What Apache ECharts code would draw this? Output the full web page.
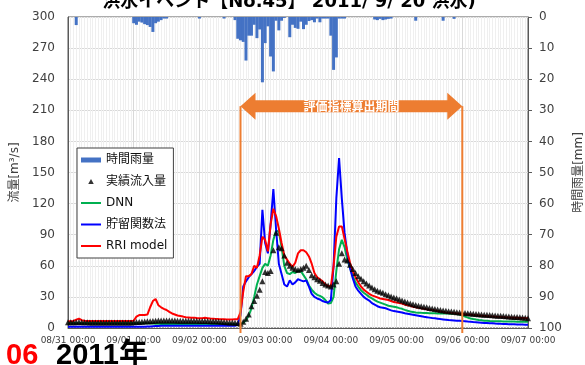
<!DOCTYPE html>
<html>
<head>
<meta charset="utf-8">
<script src="https://cdn.jsdelivr.net/npm/echarts@6/dist/echarts.min.js"></script>
<style>
html, body { margin: 0; padding: 0; background: #fff; }
#chart { width: 585px; height: 365px; }
</style>
</head>
<body>
<div id="chart"></div>
<script>
// Hourly series, index 0 = 08/31 00:00, index 168 = 09/07 00:00
const tickLabels = ['08/31 00:00', '09/01 00:00', '09/02 00:00', '09/03 00:00',
  '09/04 00:00', '09/05 00:00', '09/06 00:00', '09/07 00:00'];

// 時間雨量 [mm]
const rain = [
  0, 0, 0, 2.6, 0, 0, 0, 0, 0, 0, 0, 0,
  0, 0, 0, 0, 0, 0, 0, 0, 0, 0, 0, 0,
  2.0, 2.5, 1.5, 1.8, 2.3, 2.6, 3.2, 4.8, 2.0, 1.5, 1.0, 0.5,
  0.5, 0, 0, 0, 0, 0, 0, 0, 0, 0, 0, 0,
  0.5, 0, 0, 0, 0, 0, 0, 0, 0, 0.5, 0, 0,
  0, 1, 7, 7.5, 8, 14, 6, 6, 2.5, 6.8, 4, 21,
  8.4, 3, 12.7, 17.5, 1.2, 4.3, 1.2, 0.3, 0, 6.5, 2.5, 3.5,
  3.8, 1.5, 3.9, 2.5, 1.3, 1, 1.7, 0.5, 1.7, 0.5, 0.5, 0.5,
  6, 17, 13, 0.5, 0.5, 0.5, 0, 0, 0, 0, 0, 0,
  0, 0, 0, 0, 0.8, 1, 0.6, 1, 0.8, 0.6, 0.5, 0,
  0, 0, 0, 0, 0, 0, 0, 1.2, 0, 0, 0, 0,
  0, 0, 0, 0, 0, 1.2, 0, 0, 0, 0.6, 0, 0,
  0, 0, 0, 0, 0, 0, 0, 0, 0, 0, 0, 0,
  0, 0, 0, 0, 0, 0, 0, 0, 0, 0, 0, 0,
  0
];

// 実績流入量 [m3/s]
const observed = [
  5.5, 5.5, 5.5, 5.6, 5.8, 5.6, 5.5, 5.5, 5.4, 5.4, 5.4, 5.4,
  5.4, 5.4, 5.3, 5.3, 5.3, 5.3, 5.3, 5.3, 5.3, 5.3, 5.3, 5.4,
  5.5, 5.7, 5.9, 6.0, 6.2, 6.4, 6.6, 6.8, 7.0, 7.2, 7.3, 7.3,
  7.3, 7.3, 7.2, 7.2, 7.1, 7.1, 7.0, 7.0, 7.0, 6.9, 6.9, 6.9,
  6.8, 6.8, 6.8, 6.7, 6.6, 6.5, 6.4, 6.2, 6.0, 5.8, 5.6, 5.4,
  5.2, 5.0, 4.8, 4.0, 6.0, 9.0, 13, 21, 26, 31, 37, 45,
  54, 53, 55, 75, 92, 78, 77, 70, 63, 60, 58, 57,
  56, 57, 58, 60, 56, 51, 49, 47, 45.5, 43.5, 42, 41,
  40, 42, 45, 62, 72, 66, 65, 61, 57, 53, 50, 47.5,
  45, 43, 41, 39, 37.5, 36, 35, 34, 32.5, 31.5, 30.5, 29.5,
  28.6, 27.5, 26.5, 25.5, 24.5, 23.7, 23, 22.2, 21.5, 21, 20.4, 19.9,
  19.4, 18.9, 18.4, 17.9, 17.4, 17, 16.6, 16.2, 15.9, 15.6, 15.3, 15,
  14.7, 14.4, 14.2, 14, 13.8, 13.5, 13.3, 13.1, 12.9, 12.7, 12.5, 12.3,
  12.1, 11.9, 11.7, 11.5, 11.3, 11.1, 10.9, 10.7, 10.5, 10.3, 10.1, 9.8,
  9.5
];

// DNN
const dnn = [
  4.5, 4.5, 4.5, 4.5, 4.5, 4.5, 4.5, 4.5, 4.5, 4.5, 4.5, 4.5,
  4.5, 4.5, 4.5, 4.5, 4.5, 4.5, 4.5, 4.5, 4.5, 4.5, 4.5, 4.5,
  4.5, 4.5, 4.5, 4.5, 4.5, 4.5, 4.4, 4.3, 4.2, 4.0, 3.9, 3.9,
  3.9, 3.9, 3.9, 3.9, 3.9, 3.9, 3.9, 3.9, 3.9, 3.9, 3.9, 3.9,
  3.9, 3.9, 3.9, 3.9, 3.8, 3.8, 3.8, 3.8, 3.7, 3.7, 3.7, 3.6,
  3.6, 3.5, 3.5, 3.8, 5, 7.5, 12, 19, 30, 42, 50, 58,
  62, 60, 70, 85, 94, 93, 78, 60, 53, 52, 54, 53,
  55, 55, 51, 47, 41, 37, 34, 32, 31, 29.5, 27, 23.5,
  24, 30, 55, 76, 85, 78, 66, 58, 50, 44, 40, 36.5,
  34, 32, 30, 28.5, 27, 25.5, 24.5, 23.5, 22.5, 21.5, 21, 20.5,
  20, 19.2, 18.5, 17.5, 16.6, 16, 15.5, 15, 14.8, 14.6, 14.5, 14.4,
  14.3, 14.2, 14.2, 14.1, 14, 14, 13.9, 13.9, 13.8, 13.8, 13.6, 13,
  12, 11, 10, 9.2, 8.6, 8.1, 7.7, 7.4, 7.1, 6.9, 6.7, 6.6,
  6.5, 6.4, 6.4, 6.3, 6.3, 6.2, 6.2, 6.2, 6.1, 6.1, 6.1, 6.0,
  6.0
];

// 貯留関数法
const storage = [
  1.3, 1.3, 1.3, 1.3, 1.3, 1.3, 1.3, 1.3, 1.3, 1.3, 1.3, 1.3,
  1.3, 1.3, 1.3, 1.3, 1.3, 1.3, 1.3, 1.3, 1.3, 1.3, 1.3, 1.3,
  1.3, 1.3, 1.3, 1.3, 1.3, 1.4, 1.5, 1.7, 1.9, 2.0, 2.1, 2.2,
  2.2, 2.2, 2.2, 2.2, 2.2, 2.2, 2.2, 2.2, 2.2, 2.2, 2.2, 2.2,
  2.2, 2.2, 2.2, 2.2, 2.2, 2.2, 2.2, 2.2, 2.2, 2.2, 2.2, 2.2,
  2.2, 2.2, 3, 12, 40, 45, 49, 52, 55, 59, 62, 114,
  82, 72, 100, 134, 95, 62, 52, 42, 40, 46, 42, 44,
  47, 46, 45, 46, 40, 33, 30, 28.5, 27.5, 26, 25, 24.5,
  27, 60, 125, 164, 125, 92, 72, 58, 48, 40, 36, 33,
  30, 28, 26.5, 24, 22.5, 21, 20, 19.5, 19, 18, 17, 16.3,
  16, 15.5, 15, 14.3, 13.8, 13.3, 12.8, 12.3, 11.8, 11.3, 10.8, 10.4,
  10, 9.6, 9.3, 9, 8.6, 8.3, 8, 7.7, 7.5, 7.3, 7.1, 6.9,
  6.7, 6.5, 6.2, 6, 5.7, 5.5, 5.3, 5.1, 4.9, 4.8, 4.6, 4.5,
  4.3, 4.2, 4, 3.9, 3.8, 3.7, 3.6, 3.5, 3.4, 3.4, 3.3, 3.2,
  3.2
];

// RRI model
const rri = [
  6.5, 6.5, 6.8, 8, 9, 7.5, 7, 6.8, 6.8, 6.8, 6.8, 6.8,
  6.8, 6.7, 6.7, 6.7, 6.7, 6.7, 6.7, 6.7, 6.7, 6.7, 6.7, 6.8,
  7, 11, 12.5, 12.5, 12.5, 13, 20, 26, 28, 22, 20, 18.5,
  17.4, 15.5, 14, 13, 12, 11.6, 11, 10.3, 10.2, 10, 10, 9.6,
  9.3, 9.5, 9.8, 9.5, 9.2, 9, 8.8, 8.6, 8.5, 8.4, 8.3, 8.3,
  8.3, 8.5, 8.5, 15, 35, 50, 50, 52, 60, 58, 70, 88,
  85, 74, 100, 115, 108, 96, 82, 70, 66, 62, 59, 63,
  72, 75, 75, 73, 69, 62, 53, 49, 47, 45, 42, 40.5,
  40, 60, 88, 98, 98, 86, 74, 63, 55, 49, 44, 40,
  37, 35, 33, 31.5, 30.5, 29.5, 28.5, 28, 27.5, 27, 26, 25,
  24.5, 24, 23.5, 22.5, 22, 21.5, 20.5, 20, 19.5, 19, 18.5, 18,
  17.7, 17.3, 17, 16.5, 16, 15.5, 15, 14.7, 14.4, 14.2, 14, 13.8,
  13.5, 13.2, 13, 12.8, 12.5, 12.3, 12, 11.8, 11.6, 11.4, 11.2, 11,
  10.9, 10.7, 10.5, 10.4, 10.2, 10.1, 10, 9.9, 9.8, 9.7, 9.6, 9.5,
  9.4
];

// evaluation window (hour index) and the level of the arrow band
const evalStart = 63;
const evalEnd = 144;
const arrowLevel = 214;

const pairs = arr => arr.map((v, i) => [i, v]);

const numFont = '"DejaVu Sans", "Noto Sans CJK JP", sans-serif';
const orange = '#ED7D31';
const axisGrey = '#595959';
const textGrey = '#404040';

const chart = echarts.init(document.getElementById('chart'), null, { renderer: 'canvas' });

chart.setOption({
  animation: false,
  backgroundColor: '#fff',
  grid: {
    left: 68, right: 57, top: 17, bottom: 37,
    containLabel: false, outerBoundsMode: 'none',
    show: true, borderColor: axisGrey, borderWidth: 1, backgroundColor: 'transparent'
  },
  legend: {
    orient: 'vertical',
    left: 77, top: 148,
    padding: [5, 6, 5, 4],
    itemWidth: 20, itemHeight: 5, itemGap: 7.5,
    borderColor: textGrey, borderWidth: 1, borderRadius: 0,
    backgroundColor: '#fff',
    selectedMode: false,
    itemStyle: { borderWidth: 0 },
    textStyle: { fontSize: 12, color: '#111', fontFamily: numFont, lineHeight: 14 },
    data: [
      { name: '時間雨量', icon: 'rect' },
      { name: '実績流入量', icon: 'path://M5,0L10,9H0Z' },
      { name: 'DNN', icon: 'path://M0,0H20V2H0Z' },
      { name: '貯留関数法', icon: 'path://M0,0H20V2H0Z' },
      { name: 'RRI model', icon: 'path://M0,0H20V2H0Z' }
    ]
  },
  xAxis: {
    type: 'value', min: 0, max: 168, interval: 24,
    axisLine: { show: true, lineStyle: { color: axisGrey, width: 1 } },
    axisTick: { show: false },
    axisLabel: {
      formatter: v => tickLabels[Math.round(v / 24)],
      fontSize: 9, color: textGrey, fontFamily: numFont, margin: 8
    },
    splitLine: { show: true, lineStyle: { color: '#d9d9d9', width: 1 } },
    minorTick: { show: false, splitNumber: 24 },
    minorSplitLine: { show: true, lineStyle: { color: '#efefef', width: 1 } }
  },
  yAxis: [
    {
      type: 'value', min: 0, max: 300, interval: 30, position: 'left',
      name: '流量[m³/s]', nameLocation: 'middle', nameGap: 34, nameRotate: 90,
      nameTextStyle: { fontSize: 12, color: textGrey, fontFamily: numFont },
      axisLine: { show: true, lineStyle: { color: axisGrey, width: 1 } },
      axisTick: { show: false },
      axisLabel: { fontSize: 12, color: textGrey, fontFamily: numFont, margin: 13 },
      splitLine: { show: true, lineStyle: { color: '#d9d9d9', width: 1 } }
    },
    {
      type: 'value', min: 0, max: 100, interval: 10, position: 'right', inverse: true,
      name: '時間雨量[mm]', nameLocation: 'middle', nameGap: 44, nameRotate: 90,
      nameTextStyle: { fontSize: 12, color: textGrey, fontFamily: numFont },
      axisLine: { show: true, lineStyle: { color: axisGrey, width: 1 } },
      axisTick: { show: true, inside: false, length: 4, lineStyle: { color: axisGrey } },
      axisLabel: { fontSize: 12, color: textGrey, fontFamily: numFont, margin: 11 },
      splitLine: { show: false }
    }
  ],
  series: [
    {
      name: '時間雨量', type: 'bar', xAxisIndex: 0, yAxisIndex: 1,
      data: pairs(rain), barWidth: 3,
      itemStyle: { color: '#4472C4' }, z: 1
    },
    {
      name: 'DNN', type: 'line', yAxisIndex: 0, data: pairs(dnn),
      symbol: 'none', showSymbol: false,
      lineStyle: { color: '#00B050', width: 2 }, itemStyle: { color: '#00B050' }, z: 3
    },
    {
      name: '貯留関数法', type: 'line', yAxisIndex: 0, data: pairs(storage),
      symbol: 'none', showSymbol: false,
      lineStyle: { color: '#0000FF', width: 2 }, itemStyle: { color: '#0000FF' }, z: 3
    },
    {
      name: 'RRI model', type: 'line', yAxisIndex: 0, data: pairs(rri),
      symbol: 'none', showSymbol: false,
      lineStyle: { color: '#FF0000', width: 2 }, itemStyle: { color: '#FF0000' }, z: 3
    },
    {
      name: '実績流入量', type: 'scatter', yAxisIndex: 0, data: pairs(observed),
      symbol: 'triangle', symbolSize: [6, 6],
      itemStyle: { color: '#000' }, z: 5
    }
  ],
  graphic: [
    {
      id: 'caption', type: 'text', z: 10,
      style: {
        text: '洪水イベント【No.45】 2011/ 9/ 20 洪水)',
        x: 289, y: 11, align: 'center', verticalAlign: 'bottom',
        fontSize: 18, fontWeight: 'bold', fontFamily: numFont, fill: '#000'
      }
    },
    {
      id: 'no', type: 'text', z: 10,
      style: {
        text: '06', x: 6, y: 341, verticalAlign: 'top',
        fontSize: 29, fontWeight: 'bold', fontFamily: '"Liberation Sans", sans-serif', fill: '#FF0000'
      }
    },
    {
      id: 'year', type: 'text', z: 10,
      style: {
        text: '2011年', x: 56, y: 341, verticalAlign: 'top',
        fontSize: 29, fontWeight: 'bold', fontFamily: '"Liberation Sans", "Noto Sans CJK JP", sans-serif', fill: '#000'
      }
    }
  ]
});

// Evaluation-period annotation placed through the axis scales
const xs = chart.convertToPixel({ xAxisIndex: 0 }, evalStart);
const xe = chart.convertToPixel({ xAxisIndex: 0 }, evalEnd);
const yc = chart.convertToPixel({ yAxisIndex: 0 }, arrowLevel);
const yBase = chart.convertToPixel({ yAxisIndex: 0 }, 0);
const headLen = 15, headHalf = 13.5, bodyHalf = 6;

chart.setOption({
  graphic: [
    {
      id: 'evalStartLine', type: 'line', z: 6, silent: true,
      shape: { x1: xs, y1: yc, x2: xs, y2: yBase + 5 },
      style: { stroke: orange, lineWidth: 2 }
    },
    {
      id: 'evalEndLine', type: 'line', z: 6, silent: true,
      shape: { x1: xe, y1: yc, x2: xe, y2: yBase + 5 },
      style: { stroke: orange, lineWidth: 2 }
    },
    {
      id: 'evalArrow', type: 'polygon', z: 7, silent: true,
      shape: {
        points: [
          [xs, yc], [xs + headLen, yc - headHalf], [xs + headLen, yc - bodyHalf],
          [xe - headLen, yc - bodyHalf], [xe - headLen, yc - headHalf], [xe, yc],
          [xe - headLen, yc + headHalf], [xe - headLen, yc + bodyHalf],
          [xs + headLen, yc + bodyHalf], [xs + headLen, yc + headHalf]
        ]
      },
      style: { fill: orange }
    },
    {
      id: 'evalText', type: 'text', z: 8, silent: true,
      style: {
        text: '評価指標算出期間', x: (xs + xe) / 2, y: yc,
        align: 'center', verticalAlign: 'middle',
        fontSize: 12, fontWeight: 'bold', fontFamily: '"Noto Sans CJK JP", sans-serif', fill: '#fff'
      }
    }
  ]
});
</script>
</body>
</html>
